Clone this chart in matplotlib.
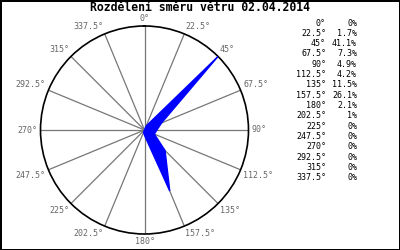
import numpy as np
import matplotlib
matplotlib.use('Agg')
import matplotlib.pyplot as plt

# ===== data =====
directions = [0, 22.5, 45, 67.5, 90, 112.5, 135, 157.5,
              180, 202.5, 225, 247.5, 270, 292.5, 315, 337.5]
percent = [0, 1.7, 41.1, 7.3, 4.9, 4.2, 11.5, 26.1,
           2.1, 1, 0, 0, 0, 0, 0, 0]
dir_labels = ['0°', '22.5°', '45°', '67.5°', '90°', '112.5°', '135°', '157.5°',
              '180°', '202.5°', '225°', '247.5°', '270°', '292.5°', '315°', '337.5°']
title = 'Rozdělení směru větru 02.04.2014'

plt.rcParams['font.family'] = ['DejaVu Sans Mono']

fig = plt.figure(figsize=(4, 2.5), dpi=100)
fig.patch.set_edgecolor('black')
fig.patch.set_linewidth(2)

# polar plot: center ~ (144.5, 130) px, radius ~104 px
ax = fig.add_axes([(144.5 - 104) / 400, (250 - 130 - 104) / 250, 208 / 400, 208 / 250],
                  projection='polar')
ax.set_theta_zero_location('N')
ax.set_theta_direction(-1)
rmax = max(percent)
ax.set_ylim(0, rmax)

theta = np.deg2rad(directions)
tc = np.append(theta, theta[0])
rc = np.append(percent, percent[0])
ax.fill(tc, rc, color='#0000ff', lw=1.0, zorder=3)

ax.set_yticks([])
ax.set_xticks(theta)
ax.set_xticklabels([])
ax.xaxis.grid(True, color='#777777', lw=0.9)
ax.yaxis.grid(False)
ax.spines['polar'].set_color('black')
ax.spines['polar'].set_linewidth(1.2)

# direction labels just outside the circle
for t, lab in zip(theta, dir_labels):
    s, c = np.sin(t), np.cos(t)
    ha = 'left' if s > 0.1 else ('right' if s < -0.1 else 'center')
    va = 'bottom' if c > 0.1 else ('top' if c < -0.1 else 'center')
    ax.annotate(lab, (t, rmax), xytext=(2 * s, 2 * c), textcoords='offset points',
                ha=ha, va=va, fontsize=6, color='#666666', annotation_clip=False)

fig.text(0.5, 1 - 7.5 / 250, title, ha='center', va='center',
         fontsize=8.3, fontweight='bold')

# table on the right
for i, (d, p) in enumerate(zip(dir_labels, percent)):
    y = 1 - (23 + i * 10.33) / 250
    fig.text(326 / 400, y, d, ha='right', va='center', fontsize=6)
    fig.text(357 / 400, y, f'{p:g}%', ha='right', va='center', fontsize=6)

fig.savefig('out.png', dpi=100, edgecolor=fig.get_edgecolor())
